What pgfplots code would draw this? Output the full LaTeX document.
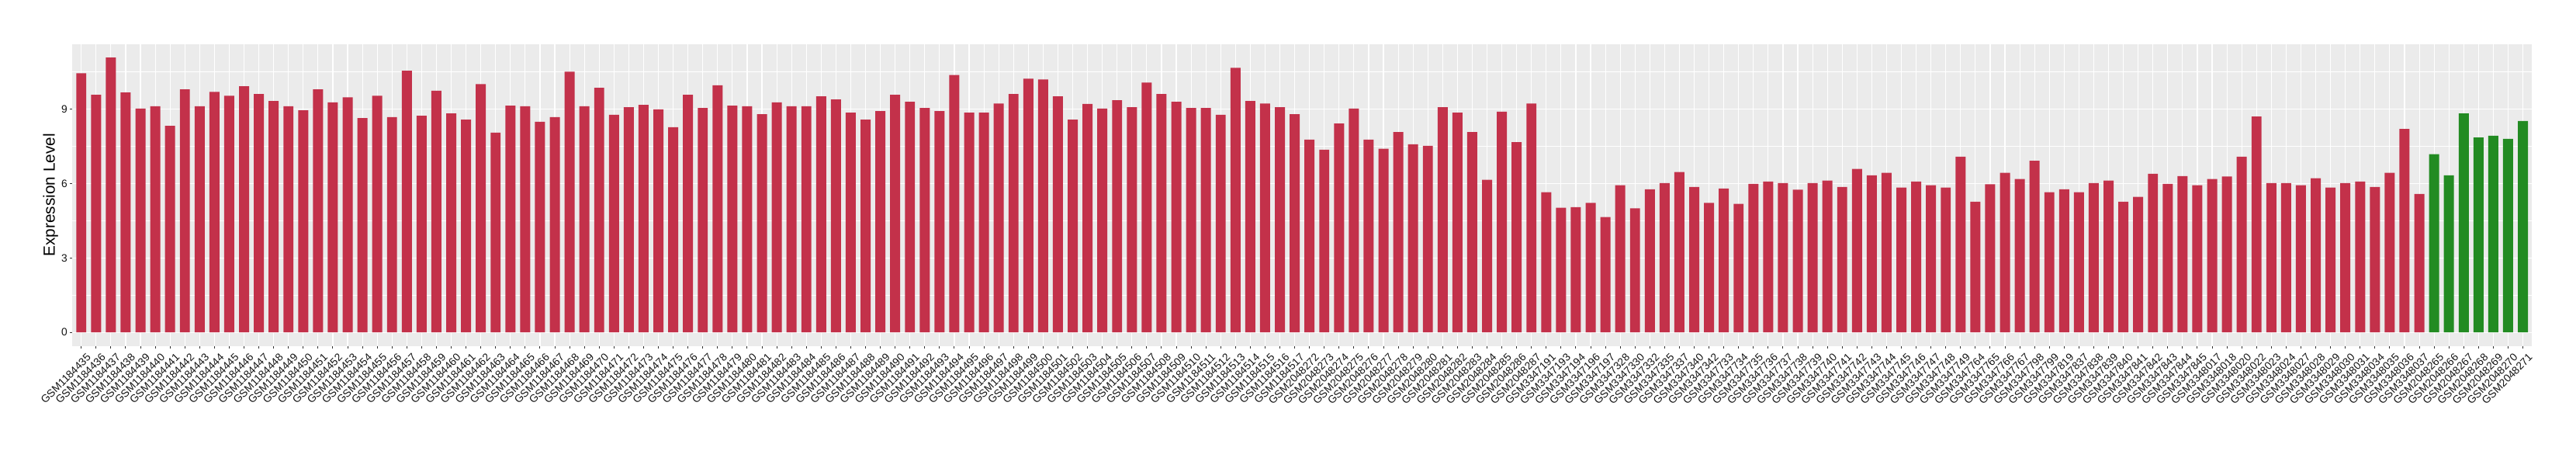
\documentclass[border=0pt]{standalone}
\usepackage{fontspec}
\setmainfont{Liberation Sans}
\usepackage{pgfplots}
\usepackage{pgfplotstable}
\pgfplotsset{compat=1.18}
\definecolor{barred}{RGB}{195,49,74}
\definecolor{bargreen}{RGB}{34,139,34}
\definecolor{panelbg}{RGB}{235,235,235}
\definecolor{tickcol}{RGB}{51,51,51}
\definecolor{textcol}{RGB}{20,20,20}
\pgfplotstableread{
x y name
0 10.45 GSM1184435
1 9.58 GSM1184436
2 11.08 GSM1184437
3 9.67 GSM1184438
4 9.02 GSM1184439
5 9.12 GSM1184440
6 8.33 GSM1184441
7 9.80 GSM1184442
8 9.12 GSM1184443
9 9.70 GSM1184444
10 9.54 GSM1184445
11 9.92 GSM1184446
12 9.61 GSM1184447
13 9.33 GSM1184448
14 9.12 GSM1184449
15 8.95 GSM1184450
16 9.80 GSM1184451
17 9.27 GSM1184452
18 9.48 GSM1184453
19 8.64 GSM1184454
20 9.54 GSM1184455
21 8.68 GSM1184456
22 10.55 GSM1184457
23 8.73 GSM1184458
24 9.74 GSM1184459
25 8.83 GSM1184460
26 8.58 GSM1184461
27 10.01 GSM1184462
28 8.05 GSM1184463
29 9.14 GSM1184464
30 9.12 GSM1184465
31 8.49 GSM1184466
32 8.68 GSM1184467
33 10.51 GSM1184468
34 9.12 GSM1184469
35 9.86 GSM1184470
36 8.77 GSM1184471
37 9.08 GSM1184472
38 9.17 GSM1184473
39 8.99 GSM1184474
40 8.27 GSM1184475
41 9.58 GSM1184476
42 9.05 GSM1184477
43 9.96 GSM1184478
44 9.14 GSM1184479
45 9.12 GSM1184480
46 8.80 GSM1184481
47 9.27 GSM1184482
48 9.12 GSM1184483
49 9.12 GSM1184484
50 9.52 GSM1184485
51 9.39 GSM1184486
52 8.86 GSM1184487
53 8.58 GSM1184488
54 8.92 GSM1184489
55 9.58 GSM1184490
56 9.30 GSM1184491
57 9.05 GSM1184492
58 8.92 GSM1184493
59 10.38 GSM1184494
60 8.86 GSM1184495
61 8.86 GSM1184496
62 9.23 GSM1184497
63 9.61 GSM1184498
64 10.23 GSM1184499
65 10.20 GSM1184500
66 9.52 GSM1184501
67 8.58 GSM1184502
68 9.21 GSM1184503
69 9.02 GSM1184504
70 9.36 GSM1184505
71 9.08 GSM1184506
72 10.07 GSM1184507
73 9.61 GSM1184508
74 9.30 GSM1184509
75 9.05 GSM1184510
76 9.05 GSM1184511
77 8.77 GSM1184512
78 10.67 GSM1184513
79 9.33 GSM1184514
80 9.23 GSM1184515
81 9.08 GSM1184516
82 8.80 GSM1184517
83 7.77 GSM2048272
84 7.36 GSM2048273
85 8.42 GSM2048274
86 9.02 GSM2048275
87 7.77 GSM2048276
88 7.40 GSM2048277
89 8.08 GSM2048278
90 7.58 GSM2048279
91 7.52 GSM2048280
92 9.08 GSM2048281
93 8.86 GSM2048282
94 8.08 GSM2048283
95 6.15 GSM2048284
96 8.90 GSM2048285
97 7.67 GSM2048286
98 9.23 GSM2048287
99 5.65 GSM3347191
100 5.02 GSM3347193
101 5.05 GSM3347194
102 5.22 GSM3347196
103 4.65 GSM3347197
104 5.93 GSM3347328
105 5.00 GSM3347330
106 5.77 GSM3347332
107 6.02 GSM3347335
108 6.46 GSM3347337
109 5.86 GSM3347340
110 5.22 GSM3347342
111 5.80 GSM3347733
112 5.18 GSM3347734
113 5.99 GSM3347735
114 6.08 GSM3347736
115 6.02 GSM3347737
116 5.75 GSM3347738
117 6.02 GSM3347739
118 6.12 GSM3347740
119 5.86 GSM3347741
120 6.59 GSM3347742
121 6.33 GSM3347743
122 6.43 GSM3347744
123 5.84 GSM3347745
124 6.08 GSM3347746
125 5.93 GSM3347747
126 5.84 GSM3347748
127 7.08 GSM3347749
128 5.27 GSM3347764
129 5.97 GSM3347765
130 6.43 GSM3347766
131 6.18 GSM3347767
132 6.92 GSM3347798
133 5.65 GSM3347799
134 5.77 GSM3347819
135 5.65 GSM3347837
136 6.02 GSM3347838
137 6.12 GSM3347839
138 5.27 GSM3347840
139 5.46 GSM3347841
140 6.39 GSM3347842
141 5.99 GSM3347843
142 6.30 GSM3347844
143 5.93 GSM3347845
144 6.18 GSM3348017
145 6.28 GSM3348018
146 7.08 GSM3348020
147 8.70 GSM3348022
148 6.02 GSM3348023
149 6.02 GSM3348024
150 5.93 GSM3348027
151 6.21 GSM3348028
152 5.84 GSM3348029
153 6.02 GSM3348030
154 6.08 GSM3348031
155 5.86 GSM3348034
156 6.43 GSM3348035
157 8.20 GSM3348036
158 5.58 GSM3348037
159 7.18 GSM2048265
160 6.33 GSM2048266
161 8.83 GSM2048267
162 7.86 GSM2048268
163 7.93 GSM2048269
164 7.80 GSM2048270
165 8.52 GSM2048271
}\alldata
\begin{document}
\begin{tikzpicture}
\path[use as bounding box] (-46.65pt,-67.1pt) rectangle (1613.35pt,222.9pt);
\begin{axis}[
  scale only axis,
  width=1584.85pt, height=194.6pt,
  xmin=-0.6, xmax=165.6,
  ymin=-0.554, ymax=11.63,
  enlargelimits=false,
  axis background/.style={fill=panelbg},
  axis line style={draw=none},
  xtick={0,...,165},
  xticklabels from table={\alldata}{name},
  ytick={0,3,6,9},
  minor ytick={1.5,4.5,7.5,10.5},
  xmajorgrids, ymajorgrids, yminorgrids,
  major grid style={white, line width=0.55pt},
  minor grid style={white, line width=0.3pt},
  tick align=outside,
  major tick length=1.65pt,
  minor tick length=0pt,
  tick style={tickcol, line width=0.5pt},
  xtick pos=bottom, ytick pos=left,
  /pgf/number format/assume math mode=true,
  xticklabel style={xshift=3.15pt, yshift=-2.45pt, rotate=45, anchor=north east, inner sep=0pt, font=\fontsize{6.9}{8}\selectfont, text=textcol},
  yticklabel style={xshift=-1.35pt, anchor=east, inner sep=0pt, font=\fontsize{6.9}{8}\selectfont, text=textcol},
  ylabel={Expression Level},
  ylabel style={at={(axis description cs:-0.00883,0.5)}, anchor=center, font=\fontsize{10.4}{12}\selectfont, text=black},
  ybar,
]
\addplot[ybar, bar width=0.68, bar shift=0pt, fill=barred, draw=none, restrict x to domain=0:158] table[x=x, y=y] {\alldata};
\addplot[ybar, bar width=0.68, bar shift=0pt, fill=bargreen, draw=none, restrict x to domain=159:165] table[x=x, y=y] {\alldata};
\end{axis}
\end{tikzpicture}
\end{document}
